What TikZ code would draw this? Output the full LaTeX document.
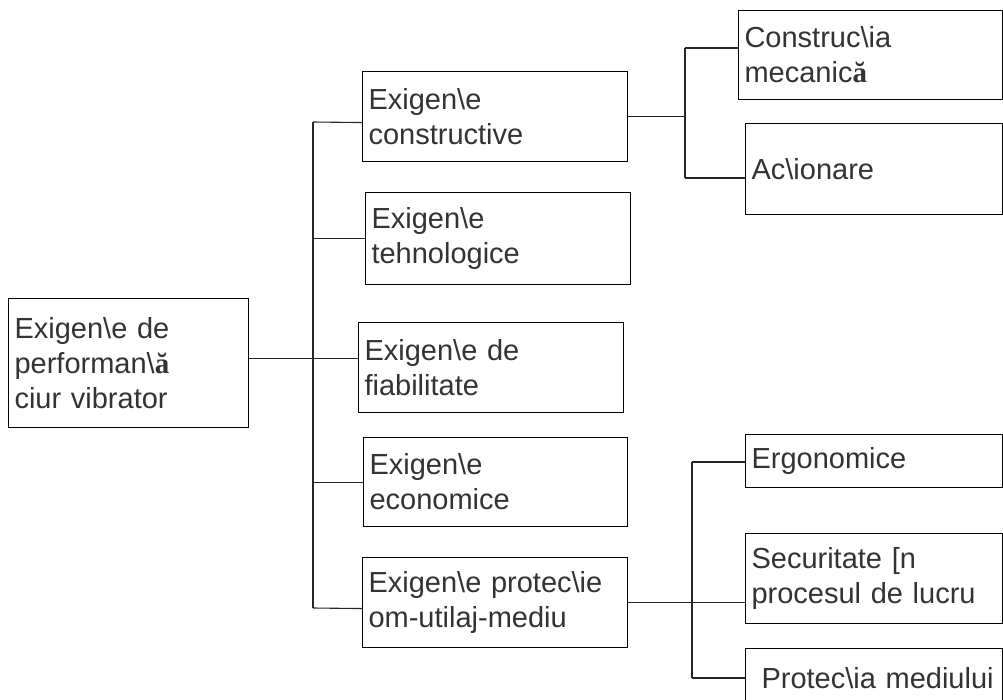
\documentclass[tikz,border=0pt]{standalone}
\usepackage{fontspec}
\setmainfont{Liberation Sans}
\newfontfamily\accfont{Liberation Serif}
% legacy-encoded glyphs as printed: backslash and a bold serif breve-a
\newcommand{\bs}{\textbackslash}
\newcommand{\abreve}{{\accfont\bfseries ă}}
\begin{document}
\begin{tikzpicture}[x=1pt,y=-1pt,
  box/.style={draw=black, line width=1.1pt, anchor=north west, align=left,
    inner xsep=6pt, inner ysep=0pt, text=black!80,
    font=\fontsize{29}{35}\selectfont},
  link/.style={draw=black!85, line width=1.1pt}]
\fill[white] (0,0) rectangle (1003,699);
\useasboundingbox (0,0) rectangle (1003,699);
\clip (0,0) rectangle (1003,699);

% root and first level
\node[box, minimum width=240pt, minimum height=129pt, text width=228pt] (root) at (8,298)
  {Exigen\bs e de\\performan\bs\abreve\\ciur vibrator};
\node[box, minimum width=265pt, minimum height=90pt, text width=253pt] (b1) at (362,71)
  {Exigen\bs e\\constructive};
\node[box, minimum width=265pt, minimum height=92pt, text width=253pt] (b2) at (365,192)
  {Exigen\bs e\\tehnologice};
\node[box, minimum width=265pt, minimum height=90pt, text width=253pt] (b3) at (358,322)
  {Exigen\bs e de\\fiabilitate};
\node[box, minimum width=264pt, minimum height=89pt, text width=252pt] (b4) at (363,437)
  {Exigen\bs e\\economice};
\node[box, minimum width=265pt, minimum height=90pt, text width=253pt] (b5) at (362,557)
  {Exigen\bs e protec\bs ie\\om-utilaj-mediu};

% second level
\node[box, minimum width=264pt, minimum height=89pt, text width=252pt] (c1) at (738,10)
  {Construc\bs ia\\mecanic\abreve};
\node[box, minimum width=257pt, minimum height=91pt, text width=245pt] (c2) at (745,123)
  {Ac\bs ionare};
\node[box, minimum width=257pt, minimum height=53pt, text width=245pt] (e1) at (745,434)
  {Ergonomice};
\node[box, minimum width=257pt, minimum height=90pt, text width=245pt] (e2) at (745,533)
  {Securitate [n\\procesul de lucru};
\node[box, minimum width=257pt, minimum height=60pt, text width=245pt] (e3) at (745,648)
  {\hspace*{10pt}Protec\bs ia mediului};

% main trunk
\coordinate (ta) at (313,122);
\coordinate (tb) at (313,608);
\draw[link] (ta) -- (tb);
\draw[link] (ta) -- ([yshift=-6pt]b1.west);
\draw[link] (b2.west -| ta) -- (b2.west);
\draw[link] ([yshift=4.5pt]root.east) coordinate (rc) -- (rc -| b3.west);
\draw[link] (b4.west -| ta) -- (b4.west);
\draw[link] (tb) -- ([yshift=-6pt]b5.west);

% constructive branch
\coordinate (ua) at (685,48);
\coordinate (ub) at (685,178);
\draw[link] (ua) -- (ub);
\draw[link] (b1.east) -- (b1.east -| ua);
\draw[link] (ua) -- (ua -| c1.west);
\draw[link] (ub) -- (ub -| c2.west);

% protection branch
\coordinate (va) at (692,462);
\coordinate (vb) at (692,678);
\draw[link] (va) -- (vb);
\draw[link] (va) -- (va -| e1.west);
\draw[link] (b5.east) -- (b5.east -| e2.west);
\draw[link] (vb) -- (vb -| e3.west);
\end{tikzpicture}
\end{document}
